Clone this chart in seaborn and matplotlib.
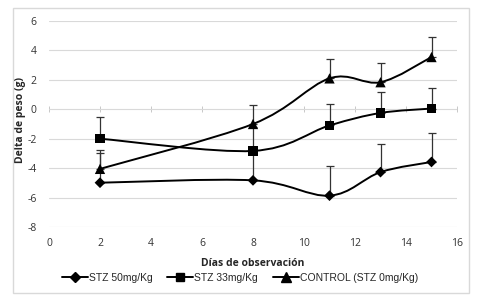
import numpy as np
import pandas as pd
import matplotlib
matplotlib.use("Agg")
import matplotlib.pyplot as plt
from matplotlib.path import Path
from matplotlib.patches import PathPatch, Rectangle
from matplotlib.lines import Line2D
import seaborn as sns

# ---- data ----
days = [2, 8, 11, 13, 15]
series_names = ["STZ 50mg/Kg", "STZ 33mg/Kg", "CONTROL (STZ 0mg/Kg)"]
stz50 = [-4.99, -4.83, -5.87, -4.27, -3.58]
stz50_err = [1.99, 2.3, 1.99, 1.94, 1.98]
stz33 = [-2.0, -2.83, -1.1, -0.25, 0.05]
stz33_err = [1.5, 1.6, 1.49, 1.43, 1.43]
control = [-4.05, -1.0, 2.1, 1.84, 3.55]
control_err = [1.3, 1.3, 1.32, 1.31, 1.33]
x_ticks = [0, 2, 4, 6, 8, 10, 12, 14, 16]
y_ticks = [-8, -6, -4, -2, 0, 2, 4, 6]
x_label = "Días de observación"
y_label = "Delta de peso (g)"

sns.set_theme(style="white")
plt.rcParams["font.family"] = ["Liberation Sans", "DejaVu Sans"]

fig = plt.figure(figsize=(4.8, 3.02), dpi=100)
ax = fig.add_axes([49/480, 1-227/302, (457-49)/480, (227-21)/302])

def smooth_path(xs, ys):
    P = np.column_stack([xs, ys]).astype(float)
    n = len(P)
    verts = [P[0]]
    codes = [Path.MOVETO]
    for i in range(n-1):
        p0 = P[i-1] if i > 0 else P[i]
        p1 = P[i]
        p2 = P[i+1]
        p3 = P[i+2] if i+2 < n else P[i+1]
        c1 = p1 + (p2 - p0) / 6.0
        c2 = p2 - (p3 - p1) / 6.0
        verts += [c1, c2, p2]
        codes += [Path.CURVE4]*3
    return Path(verts, codes)

markers = ["D", "s", "^"]
msizes = [30, 45, 55]
vals = [stz50, stz33, control]
errs = [stz50_err, stz33_err, control_err]

rows = []
for name, v in zip(series_names, vals):
    for d, y in zip(days, v):
        rows.append({"day": d, "value": y, "series": name})
df = pd.DataFrame(rows)

# error bars (upward only)
for v, e in zip(vals, errs):
    ax.errorbar(days, v, yerr=[np.zeros(len(e)), e], fmt="none",
                ecolor="#333333", elinewidth=0.9, capsize=3, capthick=0.9, zorder=2)

# smooth lines
for v in vals:
    ax.add_patch(PathPatch(smooth_path(days, v), facecolor="none",
                           edgecolor="black", lw=1.4, zorder=3))

sns.scatterplot(data=df, x="day", y="value", hue="series", style="series",
                markers=dict(zip(series_names, markers)),
                palette=dict(zip(series_names, ["black"]*3)),
                size="series", sizes=dict(zip(series_names, msizes)),
                edgecolor="black", linewidth=0, legend=False, ax=ax, zorder=4)

ax.set_xlim(0, 16)
ax.set_ylim(-8, 6)
ax.set_xticks(x_ticks)
ax.set_yticks(y_ticks)
ax.set_xticklabels([str(t) for t in x_ticks], fontfamily="Open Sans")
ax.set_yticklabels([str(t) for t in y_ticks], fontfamily="Open Sans")
ax.yaxis.grid(True, color="#d9d9d9", lw=0.8)
ax.set_axisbelow(True)
for s in ax.spines.values():
    s.set_visible(False)
ax.tick_params(axis="both", length=0, labelsize=7.5, colors="#333333")
ax.tick_params(axis="y", pad=9)
ax.tick_params(axis="x", pad=8)

# horizontal axis line at y=0 with ticks
sec = ax.secondary_xaxis(8/14)
sec.set_xticks(x_ticks)
sec.tick_params(axis="x", direction="inout", length=4, width=0.7, color="#c8c8c8",
                labelbottom=False, labeltop=False)
sec.spines["bottom"].set_color("#c8c8c8")
sec.spines["bottom"].set_linewidth(0.8)
for k in ["top", "left", "right"]:
    sec.spines[k].set_visible(False)
sec.xaxis.set_ticks_position("bottom")
sec.set_xticklabels([])

ax.set_xlabel(x_label, fontsize=7.5, fontweight="bold", fontfamily="Open Sans")
ax.set_ylabel(y_label, fontsize=7.5, fontweight="bold", fontfamily="Open Sans")
ax.xaxis.set_label_coords(0.5, -0.175)
ax.yaxis.set_label_coords(-0.07, 0.519)
ax.xaxis.label.set_va("center")
ax.yaxis.label.set_va("center")

handles = [Line2D([0], [0], color="black", lw=1.4, marker=m, markersize=ms,
                  markerfacecolor="black", markeredgecolor="black")
           for m, ms in zip(markers, [5, 6, 6.5])]
fig.legend(handles, series_names, loc="center", bbox_to_anchor=(0.5, 1-278/302),
           ncol=3, frameon=False, fontsize=7.5, handlelength=2.5,
           handletextpad=0.1, columnspacing=1.4, borderaxespad=0)

fig.patches.append(Rectangle((13/480, 1-293/302), (469-13)/480, (293-8)/302,
                             transform=fig.transFigure, fill=False,
                             edgecolor="#d9d9d9", lw=1.0))

fig.savefig("out.png", dpi=100)
